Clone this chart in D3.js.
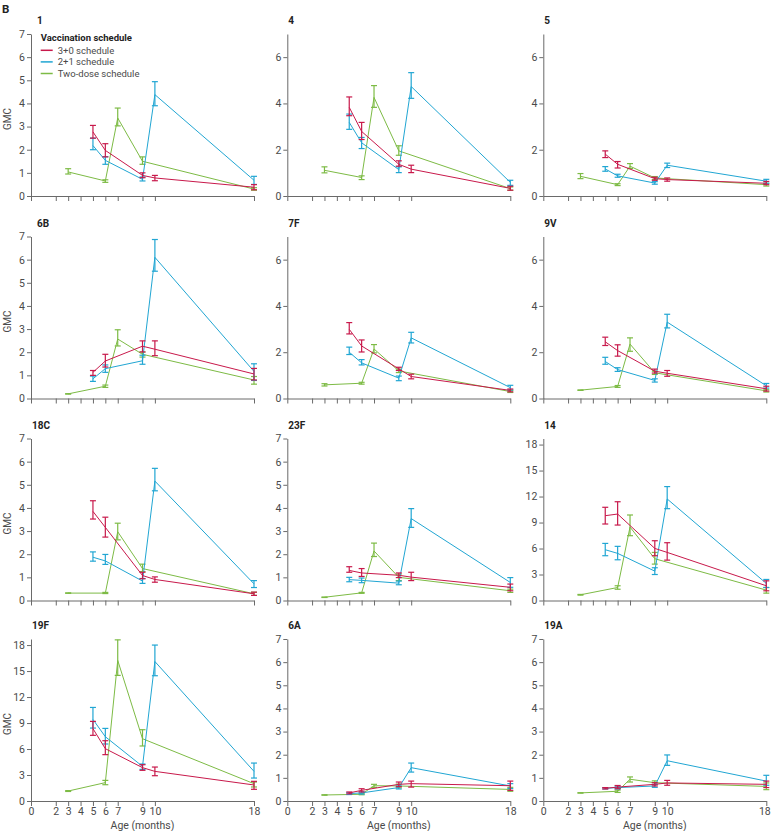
<!DOCTYPE html>
<html><head><meta charset="utf-8">
<script src="https://cdn.jsdelivr.net/npm/d3@7"></script>
<style>
body{margin:0;background:#fff;}
svg{display:block;font-family:Roboto,"Liberation Sans",sans-serif;}
</style></head>
<body><svg id="c" width="771" height="831"></svg>
<script>
// ---------- data ----------
const panelNames = ["1","4","5","6B","7F","9V","18C","23F","14","19F","6A","19A"];
const panelYMax  = [7,7,7,7,7,7,7,7,18.7,18.7,7,7];
const panelYStep = [1,2,2,1,2,2,1,1,3,3,1,1];
const xTicks = [0,2,3,4,5,6,7,9,10,18];
const seriesNames = ["3+0 schedule","2+1 schedule","Two-dose schedule"];
const seriesColors = ["#c8194b","#21a6d3","#7dbb45"];
const agesRed = [5,6,9,10,18];
const agesBlue = [5,6,9,10,18];
const agesGreen = [3,6,7,9,18];

const redMid = [[2.77,1.97,0.89,0.78,0.38],[3.83,2.79,1.37,1.16,0.33],[1.81,1.37,0.75,0.71,0.55],[1.13,1.62,2.26,2.13,1.06],[2.99,2.27,1.28,0.95,0.35],[2.45,2.07,1.18,1.09,0.42],[3.85,3.16,1.08,0.91,0.29],[1.30,1.19,1.09,1.01,0.57],[9.79,9.98,6.01,5.55,1.70],[8.35,6.04,3.85,3.42,1.85],[0.35,0.46,0.72,0.75,0.66],[0.55,0.60,0.72,0.78,0.72]];
const redLo = [[2.50,1.69,0.79,0.66,0.27],[3.47,2.44,1.29,1.01,0.25],[1.66,1.21,0.68,0.64,0.49],[1.00,1.36,2.01,1.85,0.80],[2.79,2.01,1.21,0.85,0.29],[2.29,1.83,1.10,0.96,0.32],[3.52,2.74,0.94,0.79,0.22],[1.22,1.04,0.99,0.86,0.42],[8.83,8.71,5.17,4.66,1.12],[7.58,5.35,3.54,2.92,1.35],[0.31,0.39,0.62,0.60,0.46],[0.52,0.53,0.65,0.68,0.58]];
const redHi = [[3.05,2.26,1.00,0.89,0.49],[4.28,3.18,1.52,1.33,0.42],[1.95,1.49,0.81,0.78,0.63],[1.21,1.91,2.49,2.49,1.30],[3.28,2.53,1.35,1.05,0.41],[2.65,2.32,1.27,1.21,0.53],[4.31,3.60,1.22,1.02,0.36],[1.46,1.38,1.19,1.22,0.71],[10.76,11.40,6.90,6.67,2.27],[9.19,6.96,4.19,3.92,2.27],[0.39,0.53,0.82,0.86,0.86],[0.58,0.67,0.79,0.89,0.86]];

const blueMid = [[2.18,1.54,0.72,4.38,0.68],[3.18,2.30,1.14,4.73,0.59],[1.17,0.87,0.56,1.33,0.64],[0.85,1.29,1.63,6.10,1.17],[2.00,1.54,0.88,2.62,0.47],[1.60,1.25,0.78,3.30,0.55],[1.87,1.71,0.84,5.16,0.72],[0.90,0.87,0.75,3.54,0.78],[5.86,5.44,3.39,11.72,1.97],[9.42,7.42,4.00,16.10,3.42],[0.32,0.35,0.58,1.44,0.65],[0.55,0.58,0.65,1.74,0.86]];
const blueLo = [[2.00,1.37,0.65,3.90,0.50],[2.88,2.05,1.01,4.22,0.46],[1.07,0.81,0.51,1.23,0.55],[0.74,1.13,1.48,5.50,0.78],[1.90,1.45,0.77,2.40,0.37],[1.48,1.17,0.71,3.05,0.45],[1.70,1.56,0.74,4.74,0.56],[0.81,0.77,0.68,3.16,0.57],[5.17,4.70,3.00,10.60,1.50],[8.42,6.58,3.65,14.46,2.65],[0.28,0.30,0.52,1.25,0.54],[0.52,0.52,0.59,1.54,0.68]];
const blueHi = [[2.50,1.70,0.82,4.94,0.85],[3.54,2.53,1.26,5.33,0.68],[1.27,0.94,0.62,1.42,0.72],[0.97,1.45,1.87,6.87,1.50],[2.22,1.68,0.97,2.86,0.57],[1.78,1.33,0.85,3.64,0.65],[2.10,1.99,0.95,5.71,0.86],[1.00,0.97,0.84,3.97,0.99],[6.59,6.25,3.78,13.15,2.43],[10.80,8.38,4.27,18.00,4.38],[0.36,0.40,0.65,1.64,0.75],[0.58,0.64,0.72,1.99,1.11]];

const greenMid = [[1.04,0.65,3.37,1.50,0.30],[1.11,0.80,4.26,1.95,0.32],[0.85,0.49,1.29,0.78,0.49],[0.20,0.53,2.57,1.91,0.80],[0.59,0.66,2.14,1.19,0.30],[0.36,0.52,2.35,1.11,0.33],[0.32,0.32,2.97,1.38,0.29],[0.14,0.33,2.14,1.00,0.42],[0.66,1.50,8.48,4.82,1.20],[1.15,2.12,16.23,7.19,2.00],[0.26,0.29,0.66,0.65,0.50],[0.35,0.42,0.94,0.79,0.63]];
const greenLo = [[0.95,0.59,3.03,1.37,0.25],[1.00,0.71,3.83,1.76,0.25],[0.75,0.45,1.19,0.71,0.43],[0.19,0.48,2.27,1.79,0.62],[0.54,0.62,1.97,1.12,0.26],[0.35,0.48,2.04,1.04,0.28],[0.31,0.30,2.62,1.25,0.22],[0.13,0.31,1.90,0.86,0.35],[0.62,1.30,7.48,4.20,0.85],[1.10,1.88,14.50,6.35,1.62],[0.25,0.27,0.59,0.57,0.42],[0.34,0.37,0.82,0.71,0.49]];
const greenHi = [[1.18,0.70,3.80,1.69,0.36],[1.26,0.87,4.77,2.17,0.39],[0.97,0.53,1.40,0.84,0.55],[0.21,0.58,2.97,2.01,0.95],[0.64,0.70,2.33,1.27,0.35],[0.37,0.56,2.62,1.18,0.38],[0.33,0.35,3.34,1.57,0.36],[0.15,0.35,2.48,1.14,0.49],[0.70,1.70,9.87,5.55,1.50],[1.20,2.38,18.60,8.23,2.19],[0.27,0.32,0.72,0.73,0.59],[0.36,0.47,1.04,0.87,0.78]];

// ---------- layout ----------
const svg = d3.select("#c");
const colX = [31, 287.3, 543.3];
const rowTop = [34, 236.5, 438.5, 639];
const pw = 223, ph = 162;
const axisCol = "#6a6a6a", textCol = "#4a4a4a";
const tickFont = "Roboto, Liberation Sans, sans-serif";

svg.append("text").attr("x",2).attr("y",13).attr("font-size",11.5).attr("font-weight","bold")
  .attr("fill","#222").text("B");

const seriesDefs = [
  {ages: agesRed, mid: redMid, lo: redLo, hi: redHi, color: seriesColors[0]},
  {ages: agesBlue, mid: blueMid, lo: blueLo, hi: blueHi, color: seriesColors[1]},
  {ages: agesGreen, mid: greenMid, lo: greenLo, hi: greenHi, color: seriesColors[2]}
];

panelNames.forEach((name, i) => {
  const col = i % 3, row = Math.floor(i / 3);
  const g = svg.append("g").attr("transform", `translate(${colX[col]},${rowTop[row]})`);
  const x = d3.scaleLinear().domain([0,18]).range([0,pw]);
  const y = d3.scaleLinear().domain([0,panelYMax[i]]).range([ph,0]);
  const yt = d3.range(0, Math.floor(panelYMax[i]) + 0.001, panelYStep[i]);

  // y axis
  const ya = g.append("g").call(d3.axisLeft(y).tickValues(yt).tickFormat(d3.format("d"))
    .tickSize(4).tickPadding(2).tickSizeOuter(0));
  ya.select(".domain").attr("stroke", axisCol);
  ya.selectAll(".tick line").attr("stroke", axisCol);
  ya.selectAll(".tick text").attr("fill", textCol).attr("font-size", 10.5).attr("font-family", tickFont);

  // x axis
  const bottom = row === 3;
  const xa = g.append("g").attr("transform", `translate(0,${ph})`)
    .call(d3.axisBottom(x).tickValues(xTicks).tickSize(5).tickPadding(2).tickSizeOuter(0)
      .tickFormat(bottom ? d3.format("d") : () => ""));
  xa.select(".domain").attr("stroke", axisCol);
  xa.selectAll(".tick line").attr("stroke", axisCol);
  xa.selectAll(".tick text").attr("fill", textCol).attr("font-size", 10.5).attr("font-family", tickFont);
  if (bottom && col === 2) {
    xa.selectAll(".tick text").filter(d => d === 18).attr("dx", "-2");
  }

  // title
  g.append("text").attr("x", col === 0 && row < 2 ? 6 : 1).attr("y", -10)
    .attr("font-size", 10).attr("font-weight", "bold").attr("fill", "#222").text(name);

  if (col === 0) {
    g.append("text").attr("transform", `translate(-20,${ph/2 + 4}) rotate(-90)`)
      .attr("text-anchor","middle").attr("font-size",10).attr("fill",textCol).text("GMC");
  }
  if (bottom) {
    g.append("text").attr("x", x(9)).attr("y", ph + 28).attr("text-anchor","middle")
      .attr("font-size",10.5).attr("fill",textCol).text("Age (months)");
  }

  // series
  const line = d3.line().x(d => x(d.a)).y(d => y(d.m));
  seriesDefs.slice().reverse().forEach(s => {
    const pts = s.ages.map((a, k) => ({a, m: s.mid[i][k], lo: s.lo[i][k], hi: s.hi[i][k]}));
    g.append("path").datum(pts).attr("d", line).attr("fill","none")
      .attr("stroke", s.color).attr("stroke-width", 1);
    const eb = g.append("g").attr("stroke", s.color).attr("stroke-width", 1.2);
    pts.forEach(p => {
      const cx = x(p.a);
      eb.append("line").attr("x1",cx).attr("x2",cx).attr("y1",y(p.lo)).attr("y2",y(p.hi));
      eb.append("line").attr("x1",cx-3).attr("x2",cx+3).attr("y1",y(p.lo)).attr("y2",y(p.lo));
      eb.append("line").attr("x1",cx-3).attr("x2",cx+3).attr("y1",y(p.hi)).attr("y2",y(p.hi));
    });
  });

  // legend in first panel
  if (i === 0) {
    const lg = g.append("g").attr("transform", "translate(9.7,0)");
    lg.append("text").attr("x",0).attr("y",7).attr("font-size",9.5).attr("font-weight","bold")
      .attr("fill","#222").text("Vaccination schedule");
    seriesNames.forEach((n, k) => {
      const yy = 16.3 + k * 11.6;
      lg.append("line").attr("x1",0).attr("x2",12).attr("y1",yy).attr("y2",yy)
        .attr("stroke", seriesColors[k]).attr("stroke-width", 1.5);
      lg.append("text").attr("x",17).attr("y",yy+3.2).attr("font-size",9.5)
        .attr("fill",textCol).text(n);
    });
  }
});
</script></body></html>
